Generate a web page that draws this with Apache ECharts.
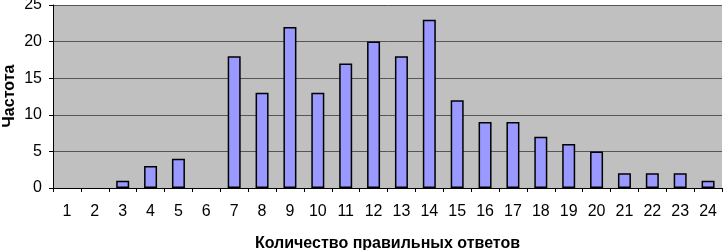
<!DOCTYPE html>
<html><head><meta charset="utf-8">
<script src="https://cdn.jsdelivr.net/npm/echarts@6/dist/echarts.min.js"></script>
<style>html,body{margin:0;padding:0;background:#fff}#c{width:724px;height:250px}</style>
</head><body><div id="c"></div>
<script>
const categories = ['1','2','3','4','5','6','7','8','9','10','11','12','13','14','15','16','17','18','19','20','21','22','23','24'];
const frequency = [0,0,1,3,4,0,18,13,22,13,17,20,18,23,12,9,9,7,6,5,2,2,2,1];
const xTitle = 'Количество правильных ответов';
const yTitle = 'Частота';
const chart = echarts.init(document.getElementById('c'));
const font = 'Liberation Sans, Arial, sans-serif';
chart.setOption({
  animation: false,
  grid: {left: 53, right: 2, top: 5, bottom: 62, show: true, backgroundColor: '#c0c0c0', borderWidth: 0, containLabel: false, outerBoundsMode: 'none'},
  graphic: [{
    type: 'text', x: 10, y: 96, rotation: Math.PI / 2,
    style: {text: yTitle, font: 'bold 16px Liberation Sans, Arial, sans-serif', fill: '#000', align: 'center', verticalAlign: 'middle'}
  }],
  xAxis: {
    type: 'category', data: categories,
    name: xTitle, nameLocation: 'middle', nameGap: 48,
    nameTextStyle: {fontFamily: font, fontSize: 16, fontWeight: 'bold', color: '#000'},
    axisLine: {lineStyle: {color: '#000', width: 1}},
    axisTick: {show: true, length: 4, lineStyle: {color: '#000'}},
    axisLabel: {fontFamily: font, fontSize: 16, color: '#000', margin: 16}
  },
  yAxis: {
    type: 'value', min: 0, max: 25, interval: 5,
    axisLine: {show: true, lineStyle: {color: '#000', width: 1}},
    axisTick: {show: true, length: 4, lineStyle: {color: '#000'}},
    axisLabel: {fontFamily: font, fontSize: 16, color: '#000', margin: 11},
    splitLine: {show: true, lineStyle: {color: '#555', width: 1}}
  },
  series: [{
    type: 'bar', data: frequency.map(v => v === 0 ? null : v), barWidth: 13,
    itemStyle: {color: '#9999ff', borderColor: '#000', borderWidth: 1.5}
  }]
});
</script></body></html>
